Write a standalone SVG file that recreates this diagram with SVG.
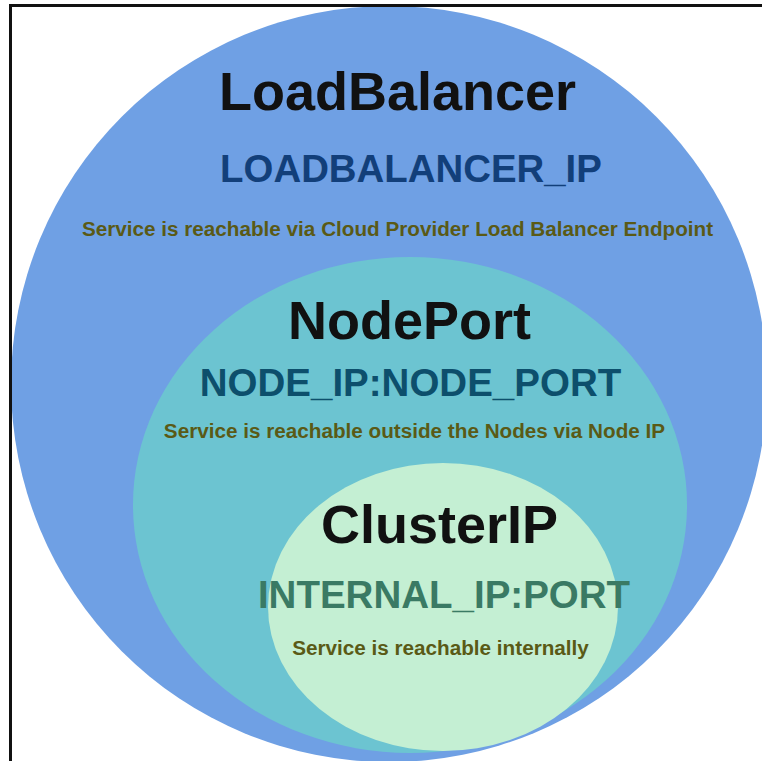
<svg xmlns="http://www.w3.org/2000/svg" width="762" height="761" viewBox="0 0 762 761">
<style>
text{font-family:"Liberation Sans",Arial,Helvetica,sans-serif;font-weight:bold;text-anchor:middle}
.title{font-size:54px;fill:#111111}
.desc{font-size:20.7px;fill:#5a5a16}
</style>
<rect width="762" height="761" fill="#ffffff"/>
<g id="loadbalancer">
<circle cx="389" cy="384" r="378" fill="#6fa0e4"/>
<text class="title" x="397.5" y="110">LoadBalancer</text>
<text x="411" y="182" font-size="38.4" fill="#123f7a">LOADBALANCER_IP</text>
<text class="desc" x="397.5" y="236">Service is reachable via Cloud Provider Load Balancer Endpoint</text>
</g>
<g id="nodeport">
<ellipse cx="410" cy="505" rx="277" ry="248" fill="#6cc4d1"/>
<text class="title" x="409.5" y="339">NodePort</text>
<text x="410.5" y="396" font-size="38.5" fill="#0d4f6c">NODE_IP:NODE_PORT</text>
<text class="desc" x="414.5" y="438">Service is reachable outside the Nodes via Node IP</text>
</g>
<g id="clusterip">
<ellipse cx="443" cy="607" rx="175" ry="144" fill="#c4efd3"/>
<text class="title" x="439.5" y="543">ClusterIP</text>
<text x="444" y="608" font-size="38.5" fill="#3a7a64">INTERNAL_IP:PORT</text>
<text class="desc" x="440.5" y="655">Service is reachable internally</text>
</g>
<g id="connectors"/>
<rect id="frame" x="10.5" y="5.5" width="800" height="800" fill="none" stroke="#111111" stroke-width="3"/>
</svg>
